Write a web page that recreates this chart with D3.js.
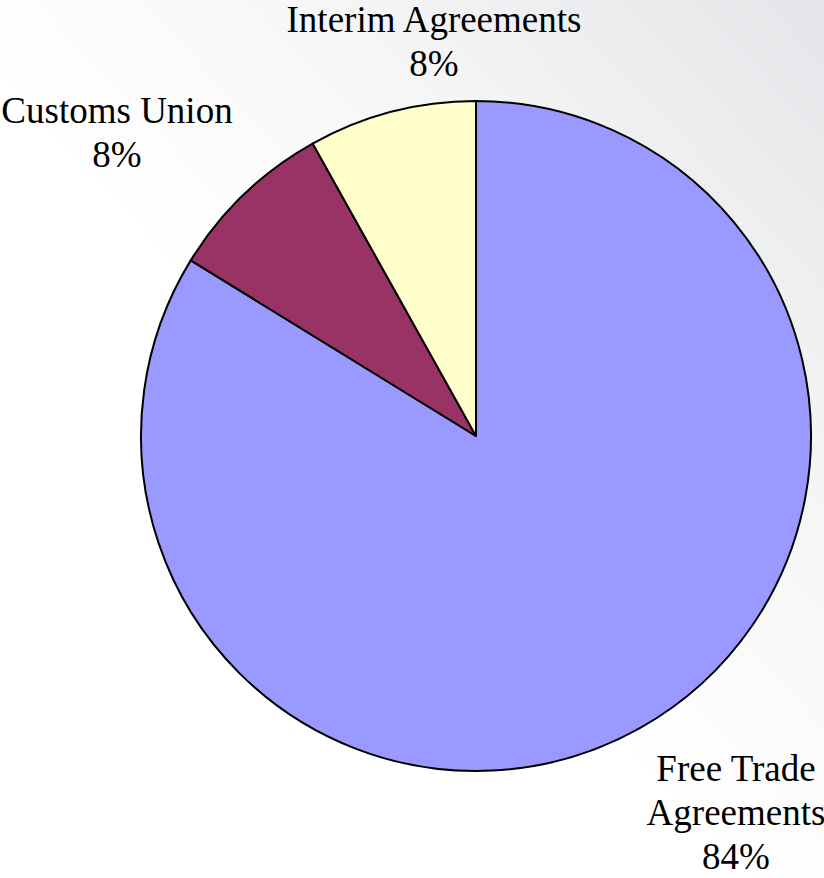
<!DOCTYPE html>
<html>
<head>
<meta charset="utf-8">
<script src="https://cdn.jsdelivr.net/npm/d3@7"></script>
<style>
  html, body { margin: 0; padding: 0; background: #fff; }
  svg { display: block; }
  .lbl { font-family: "Liberation Serif", "DejaVu Serif", "Times New Roman", Times, serif; font-size: 37px; }
</style>
</head>
<body>
<div id="chart"></div>
<script>
// agreement types, number of agreements
const categories = ["Free Trade Agreements", "Customs Union", "Interim Agreements"];
const counts = [31, 3, 3];
const colours = ["#9999FF", "#993366", "#FFFFCC"];
const labelLines = [["Free Trade", "Agreements"], ["Customs Union"], ["Interim Agreements"]];

const width = 824, height = 878;
const cx = 476, cy = 436, radius = 335;

const svg = d3.select("#chart").append("svg")
    .attr("width", width)
    .attr("height", height);

// soft grey backdrop, fading to white
const defs = svg.append("defs");
const grad = defs.append("linearGradient")
    .attr("id", "bg")
    .attr("x1", "100%").attr("y1", "0%")
    .attr("x2", "45%").attr("y2", "55%");
grad.append("stop").attr("offset", "0%").attr("stop-color", "#e4e5e8");
grad.append("stop").attr("offset", "55%").attr("stop-color", "#f6f6f7");
grad.append("stop").attr("offset", "100%").attr("stop-color", "#ffffff");

svg.append("rect")
    .attr("width", width)
    .attr("height", height)
    .attr("fill", "url(#bg)");

const data = categories.map((c, i) => ({name: c, value: counts[i], lines: labelLines[i]}));
const total = d3.sum(counts);

const pie = d3.pie().sort(null).value(d => d.value);
const arc = d3.arc().innerRadius(0).outerRadius(radius);

const g = svg.append("g").attr("transform", `translate(${cx},${cy})`);

g.selectAll("path")
    .data(pie(data))
    .join("path")
    .attr("d", arc)
    .attr("fill", (d, i) => colours[i])
    .attr("stroke", "#000")
    .attr("stroke-width", 2)
    .attr("stroke-linejoin", "round");

// label spots, as the original chart placed them (baseline of first line)
const labelPos = [[736, 781], [117, 123], [434, 32]];
const fmt = d3.format(".0%");
const lineH = 44;

const labels = svg.append("g")
    .attr("class", "lbl")
    .attr("fill", "#000")
    .attr("text-anchor", "middle");

data.forEach((d, i) => {
    const t = labels.append("text")
        .attr("x", labelPos[i][0])
        .attr("y", labelPos[i][1]);
    d.lines.concat(fmt(d.value / total)).forEach((s, j) => {
        t.append("tspan")
            .attr("x", labelPos[i][0])
            .attr("dy", j === 0 ? 0 : lineH)
            .text(s);
    });
});
</script>
</body>
</html>
